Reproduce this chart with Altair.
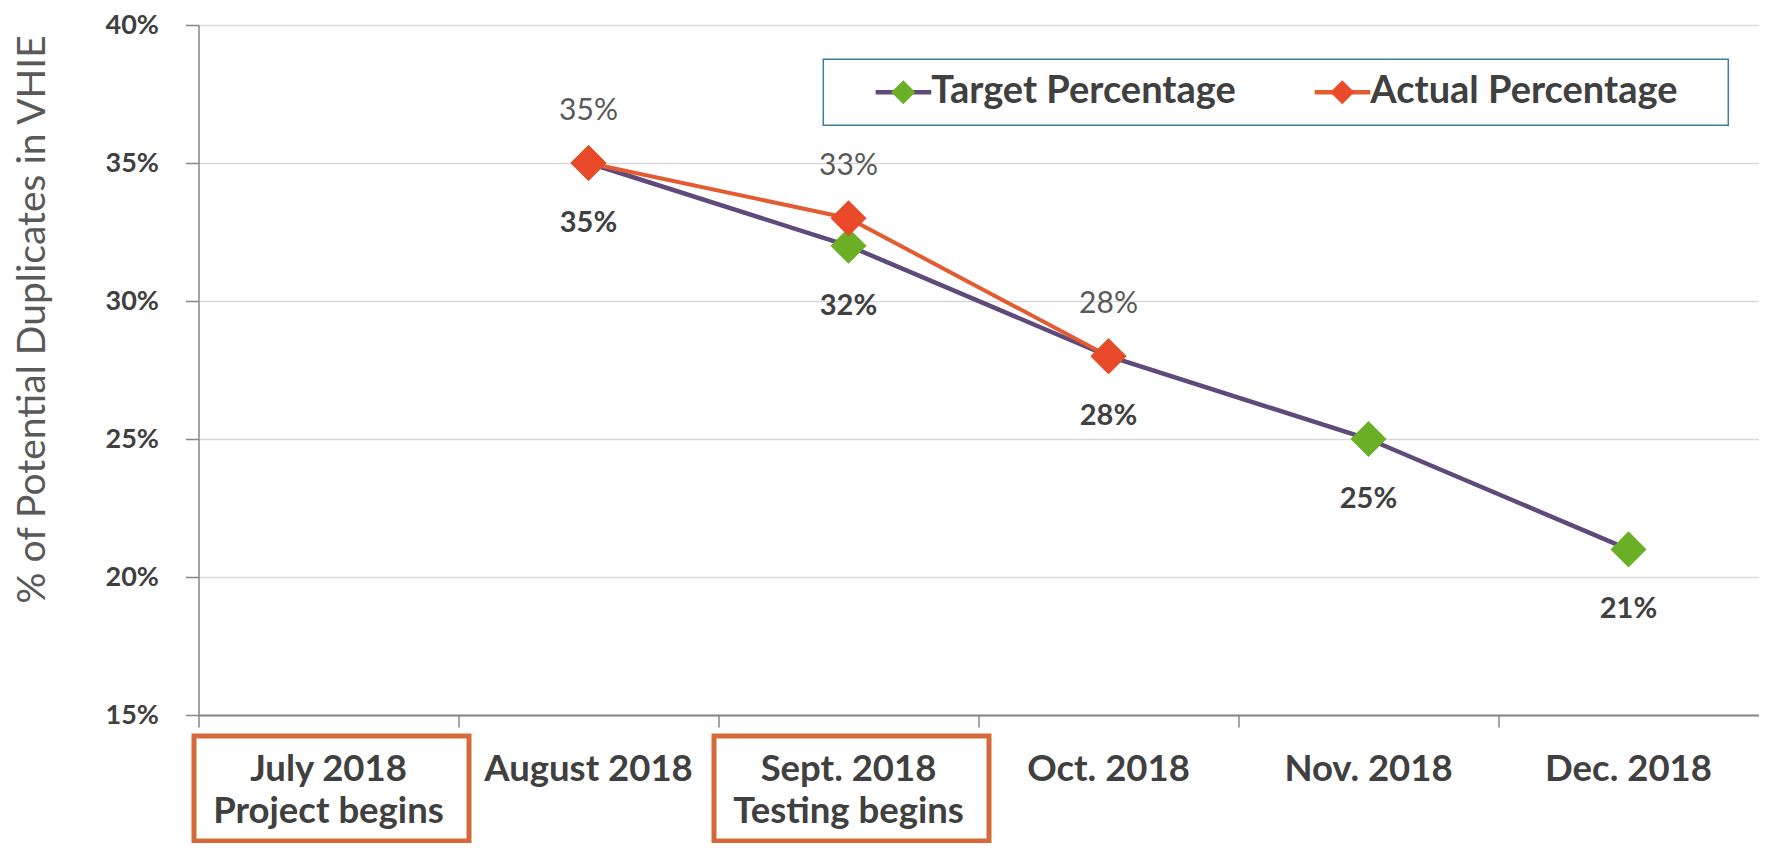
import altair as alt
import pandas as pd

# ---------------- data ----------------
months = ["July 2018", "August 2018", "Sept. 2018", "Oct. 2018", "Nov. 2018", "Dec. 2018"]
notes = ["Project begins", "", "Testing begins", "", "", ""]
series_names = ["Target Percentage", "Actual Percentage"]
series_codes = ["target", "actual"]
target = [None, 35, 32, 28, 25, 21]
actual = [None, 35, 33, 28, None, None]
y_ticks = [15, 20, 25, 30, 35, 40]
y_title = "% of Potential Duplicates in VHIE"

rows = []
for name, code, vals in zip(series_names, series_codes, [target, actual]):
    for m, v in zip(months, vals):
        if v is not None:
            rows.append({"month": m, "series": name, "code": code, "value": v})
df = pd.DataFrame(rows)
box_df = pd.DataFrame({
    "month": [m for m, n in zip(months, notes) if n],
    "note": [n for n in notes if n],
})

# ---------------- style ----------------
PURPLE = "#5F4A7B"
ORANGE = "#E35B31"
GREEN = "#6BAF26"
RED = "#E84A2A"
BOX = "#D4693A"
DARK = "#404040"
LIGHT = "#595959"
AXIS = "#868686"
GRID = "#D9D9D9"
LEG_BORDER = "#3F7F99"
FONT = "Lato"
W, H = 1560, 690

# multi-line x labels
x_expr = "datum.value"
for m, n in reversed(list(zip(months, notes))):
    if n:
        x_expr = f"datum.value == '{m}' ? ['{m}', '{n}'] : ({x_expr})"

x_enc = alt.X(
    "month:N",
    scale=alt.Scale(type="band", domain=months, paddingInner=0, paddingOuter=0),
    axis=alt.Axis(
        title=None, grid=False, bandPosition=0, labelLimit=400,
        labelExpr=x_expr, labelFont=FONT, labelFontSize=36.5, labelFontWeight="bold",
        labelColor=DARK, labelBaseline="alphabetic", labelLineHeight=42,
        labelPadding=53, tickSize=12, tickColor=AXIS, tickWidth=1.5,
        domainColor=AXIS, domainWidth=2, labelOverlap=False, labelAngle=0,
    ),
)
y_enc = alt.Y(
    "value:Q",
    scale=alt.Scale(domain=[15, 40], nice=False, zero=False),
    axis=alt.Axis(
        title=y_title, values=y_ticks, labelExpr="datum.value + '%'",
        labelFont=FONT, labelFontSize=27, labelFontWeight="bold", labelColor=DARK,
        labelPadding=27, tickSize=13, tickColor=AXIS, tickWidth=1.5,
        domainColor=AXIS, domainWidth=1.5, gridColor=GRID, gridWidth=1.5,
        titleFont=FONT, titleFontSize=39, titleFontWeight="normal", titleColor=LIGHT,
        titleAngle=270, titleX=-166, titleY=294, titleAlign="center",
        titleBaseline="middle",
    ),
)

common_leg = dict(
    orient="none", legendX=624.8, legendY=34.3, direction="horizontal",
    symbolSize=900, labelFont=FONT, labelFontSize=38, labelFontWeight="bold",
    labelColor=DARK, labelOffset=56, columnPadding=40, padding=14, labelLimit=800,
)
# legend with the frame and line symbols; an invisible title on the right gives the
# frame its extra right-hand margin
stroke_legend = alt.Legend(
    **common_leg, symbolType="M1.29,0H5.0", symbolStrokeWidth=4.5,
    strokeColor=LEG_BORDER,
    title=".", titleOrient="right", titlePadding=36, titleFontSize=2,
    titleColor="transparent",
)
# overlaid legend that only draws the diamonds (labels invisible, same layout)
fill_legend = alt.Legend(
    **common_leg, title=None, symbolType="M2.33,0L3.13,-0.8L3.93,0L3.13,0.8Z",
    symbolStrokeWidth=0, labelOpacity=0,
    labelExpr="datum.label == 'actual' ? 'Actual Percentage' : 'Target Percentage'",
)

stroke_enc = alt.Stroke("series:N", scale=alt.Scale(domain=series_names, range=[PURPLE, ORANGE]),
                        legend=stroke_legend)
fill_enc = alt.Fill("code:N", scale=alt.Scale(domain=series_codes, range=[GREEN, RED]),
                    legend=fill_legend)

base = alt.Chart(df)
is_t = alt.datum.series == series_names[0]
is_a = alt.datum.series == series_names[1]

boxes = alt.Chart(box_df).mark_rect(
    fillOpacity=0, stroke=BOX, strokeWidth=5, width=275, xOffset=3
).encode(x=x_enc, y=alt.value(H + 21), y2=alt.value(H + 126))

line_t = base.transform_filter(is_t).mark_line(strokeWidth=4.5).encode(x=x_enc, y=y_enc, stroke=stroke_enc)
line_a = base.transform_filter(is_a).mark_line(strokeWidth=4).encode(x=x_enc, y=y_enc, stroke=stroke_enc)
pts_t = base.transform_filter(is_t).mark_point(shape="diamond", filled=True, size=1300, opacity=1).encode(
    x=x_enc, y=y_enc, fill=fill_enc)
pts_a = base.transform_filter(is_a).mark_point(shape="diamond", filled=True, size=1300, opacity=1).encode(
    x=x_enc, y=y_enc, fill=fill_enc)
txt_t = base.transform_filter(is_t).transform_calculate(lab="datum.value + '%'").mark_text(
    font=FONT, fontSize=29, fontWeight="bold", color=DARK, dy=60, baseline="middle"
).encode(x=x_enc, y=y_enc, text="lab:N")
txt_a = base.transform_filter(is_a).transform_calculate(lab="datum.value + '%'").mark_text(
    font=FONT, fontSize=30, fontWeight="normal", color=LIGHT, dy=-52, baseline="middle"
).encode(x=x_enc, y=y_enc, text="lab:N")

chart = alt.layer(boxes, line_t, line_a, pts_t, pts_a, txt_t, txt_a).properties(
    width=W, height=H,
    autosize=alt.AutoSizeParams(type="none"),
    padding={"left": 190.5, "top": 17, "right": 0.5, "bottom": 128},
    background="white",
).configure_view(stroke=None).configure_legend(strokeWidth=1.5)

chart.save("out.html", embed_options={"renderer": "svg", "actions": False})
